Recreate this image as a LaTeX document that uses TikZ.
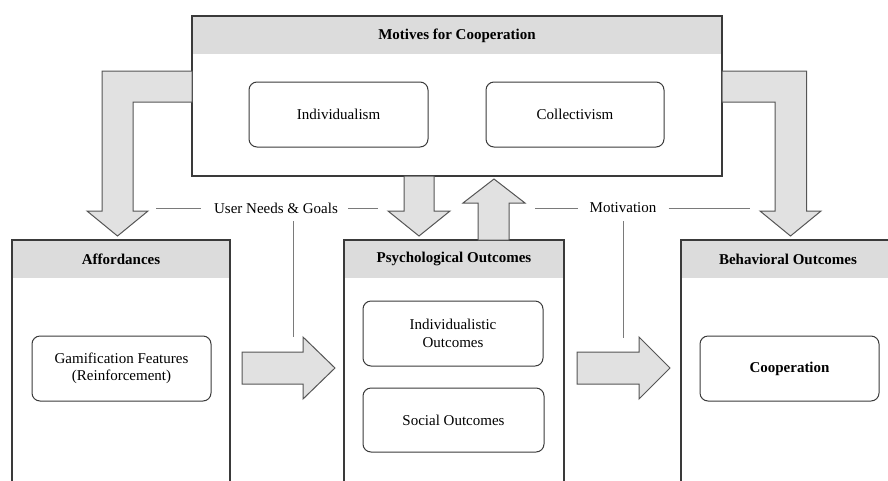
\documentclass[tikz,border=0pt]{standalone}
\usepackage{fontspec}
\setmainfont{Liberation Serif}
\usetikzlibrary{calc}
\definecolor{bandgray}{HTML}{DCDCDC}
\definecolor{arrowgray}{HTML}{E1E1E1}
\definecolor{edgegray}{HTML}{3A3A3A}
\definecolor{arrowedge}{HTML}{555555}
\definecolor{labelline}{HTML}{7A7A7A}
\begin{document}
\begin{tikzpicture}[x=1pt,y=-1pt,
  panel/.style={draw=edgegray,line width=1.1pt},
  band/.style={fill=bandgray},
  title/.style={font=\fontsize{15}{17}\selectfont\bfseries},
  item/.style={draw=edgegray,line width=1pt,rounded corners=8pt,align=center,
    font=\fontsize{15}{17.5}\selectfont,inner sep=0pt},
  bigarrow/.style={draw=arrowedge,fill=arrowgray,line width=1pt,line join=miter},
  cue/.style={draw=labelline,line width=0.8pt},
  cuetext/.style={font=\fontsize{15}{17}\selectfont,inner sep=0pt}
]
\useasboundingbox (0,0) rectangle (888,480);
\clip (0,0) rectangle (888,480);

% ---- top panel: motives
\fill[band] (192,16) rectangle (722,54);
\draw[panel] (192,16) rectangle (722,176);
\node[title] (motives) at (457,36) {Motives for Cooperation};
\node[item,minimum width=179pt,minimum height=65pt] (indiv) at (338.5,114.5) {Individualism};
\node[item,minimum width=178pt,minimum height=65pt] (coll) at (575,114.5) {Collectivism};

% ---- bottom panels (run past the lower edge)
\fill[band] (12,240) rectangle (230,278);
\draw[panel] (12,500) -- (12,240) -- (230,240) -- (230,500);
\node[title] (afford) at (121,259) {Affordances};

\fill[band] (344,240) rectangle (564,278);
\draw[panel] (344,500) -- (344,240) -- (564,240) -- (564,500);
\node[title] (psych) at (454,259) {Psychological Outcomes};

\fill[band] (681,240) rectangle (895,278);
\draw[panel] (681,500) -- (681,240) -- (895,240) -- (895,500);
\node[title] (behav) at (788,259) {Behavioral Outcomes};

% ---- inner items
\node[item,minimum width=179pt,minimum height=65pt] (gamif) at (121.5,368.5)
  {Gamification Features\\(Reinforcement)};
\node[item,minimum width=180pt,minimum height=65pt] (indout) at (453,333.5)
  {Individualistic\\Outcomes};
\node[item,minimum width=181pt,minimum height=64pt] (socout) at (453.5,420)
  {Social Outcomes};
\node[item,minimum width=179pt,minimum height=65pt,font=\fontsize{15}{17.5}\selectfont\bfseries]
  (coop) at (789.5,368.5) {Cooperation};

% ---- block arrows
% motives -> affordances
\draw[bigarrow] (192,71) -- (102,71) -- (102,211) -- (87,211) -- (117.5,236)
  -- (148,211) -- (133,211) -- (133,102) -- (192,102) -- cycle;
% motives -> behavioral outcomes
\draw[bigarrow] (722,71) -- (806.5,71) -- (806.5,211) -- (821,211) -- (790.5,236)
  -- (760,211) -- (775,211) -- (775,102) -- (722,102) -- cycle;
% motives -> psychological outcomes
\draw[bigarrow] (404,176) -- (434,176) -- (434,211) -- (450,211) -- (419,236)
  -- (388,211) -- (404,211) -- cycle;
% psychological outcomes -> motives
\draw[bigarrow] (478,240) -- (509,240) -- (509,203) -- (525,203) -- (494,179)
  -- (463,203) -- (478,203) -- cycle;
% affordances -> psychological outcomes
\draw[bigarrow] (242,352) -- (303,352) -- (303,337) -- (335,368) -- (303,399)
  -- (303,384) -- (242,384) -- cycle;
% psychological outcomes -> behavioral outcomes
\draw[bigarrow] (577,352) -- (639,352) -- (639,337) -- (670,368) -- (639,399)
  -- (639,384) -- (577,384) -- cycle;

% ---- cue labels with their rules
\node[cuetext] (needs) at (276,208) {User Needs \& Goals};
\draw[cue] (156,208) -- ($(needs.west)+(-13,0)$);
\draw[cue] ($(needs.east)+(10,0)$) -- (378,208);
\coordinate (needsdrop) at (293,337);
\draw[cue] (293,221) -- (needsdrop);

\node[cuetext] (motiv) at (623,208) {Motivation};
\draw[cue] (535,208) -- ($(motiv.west)+(-11,0)$);
\draw[cue] ($(motiv.east)+(12,0)$) -- (750,208);
\coordinate (motivdrop) at (623,338);
\draw[cue] (623,221) -- (motivdrop);
\end{tikzpicture}
\end{document}
